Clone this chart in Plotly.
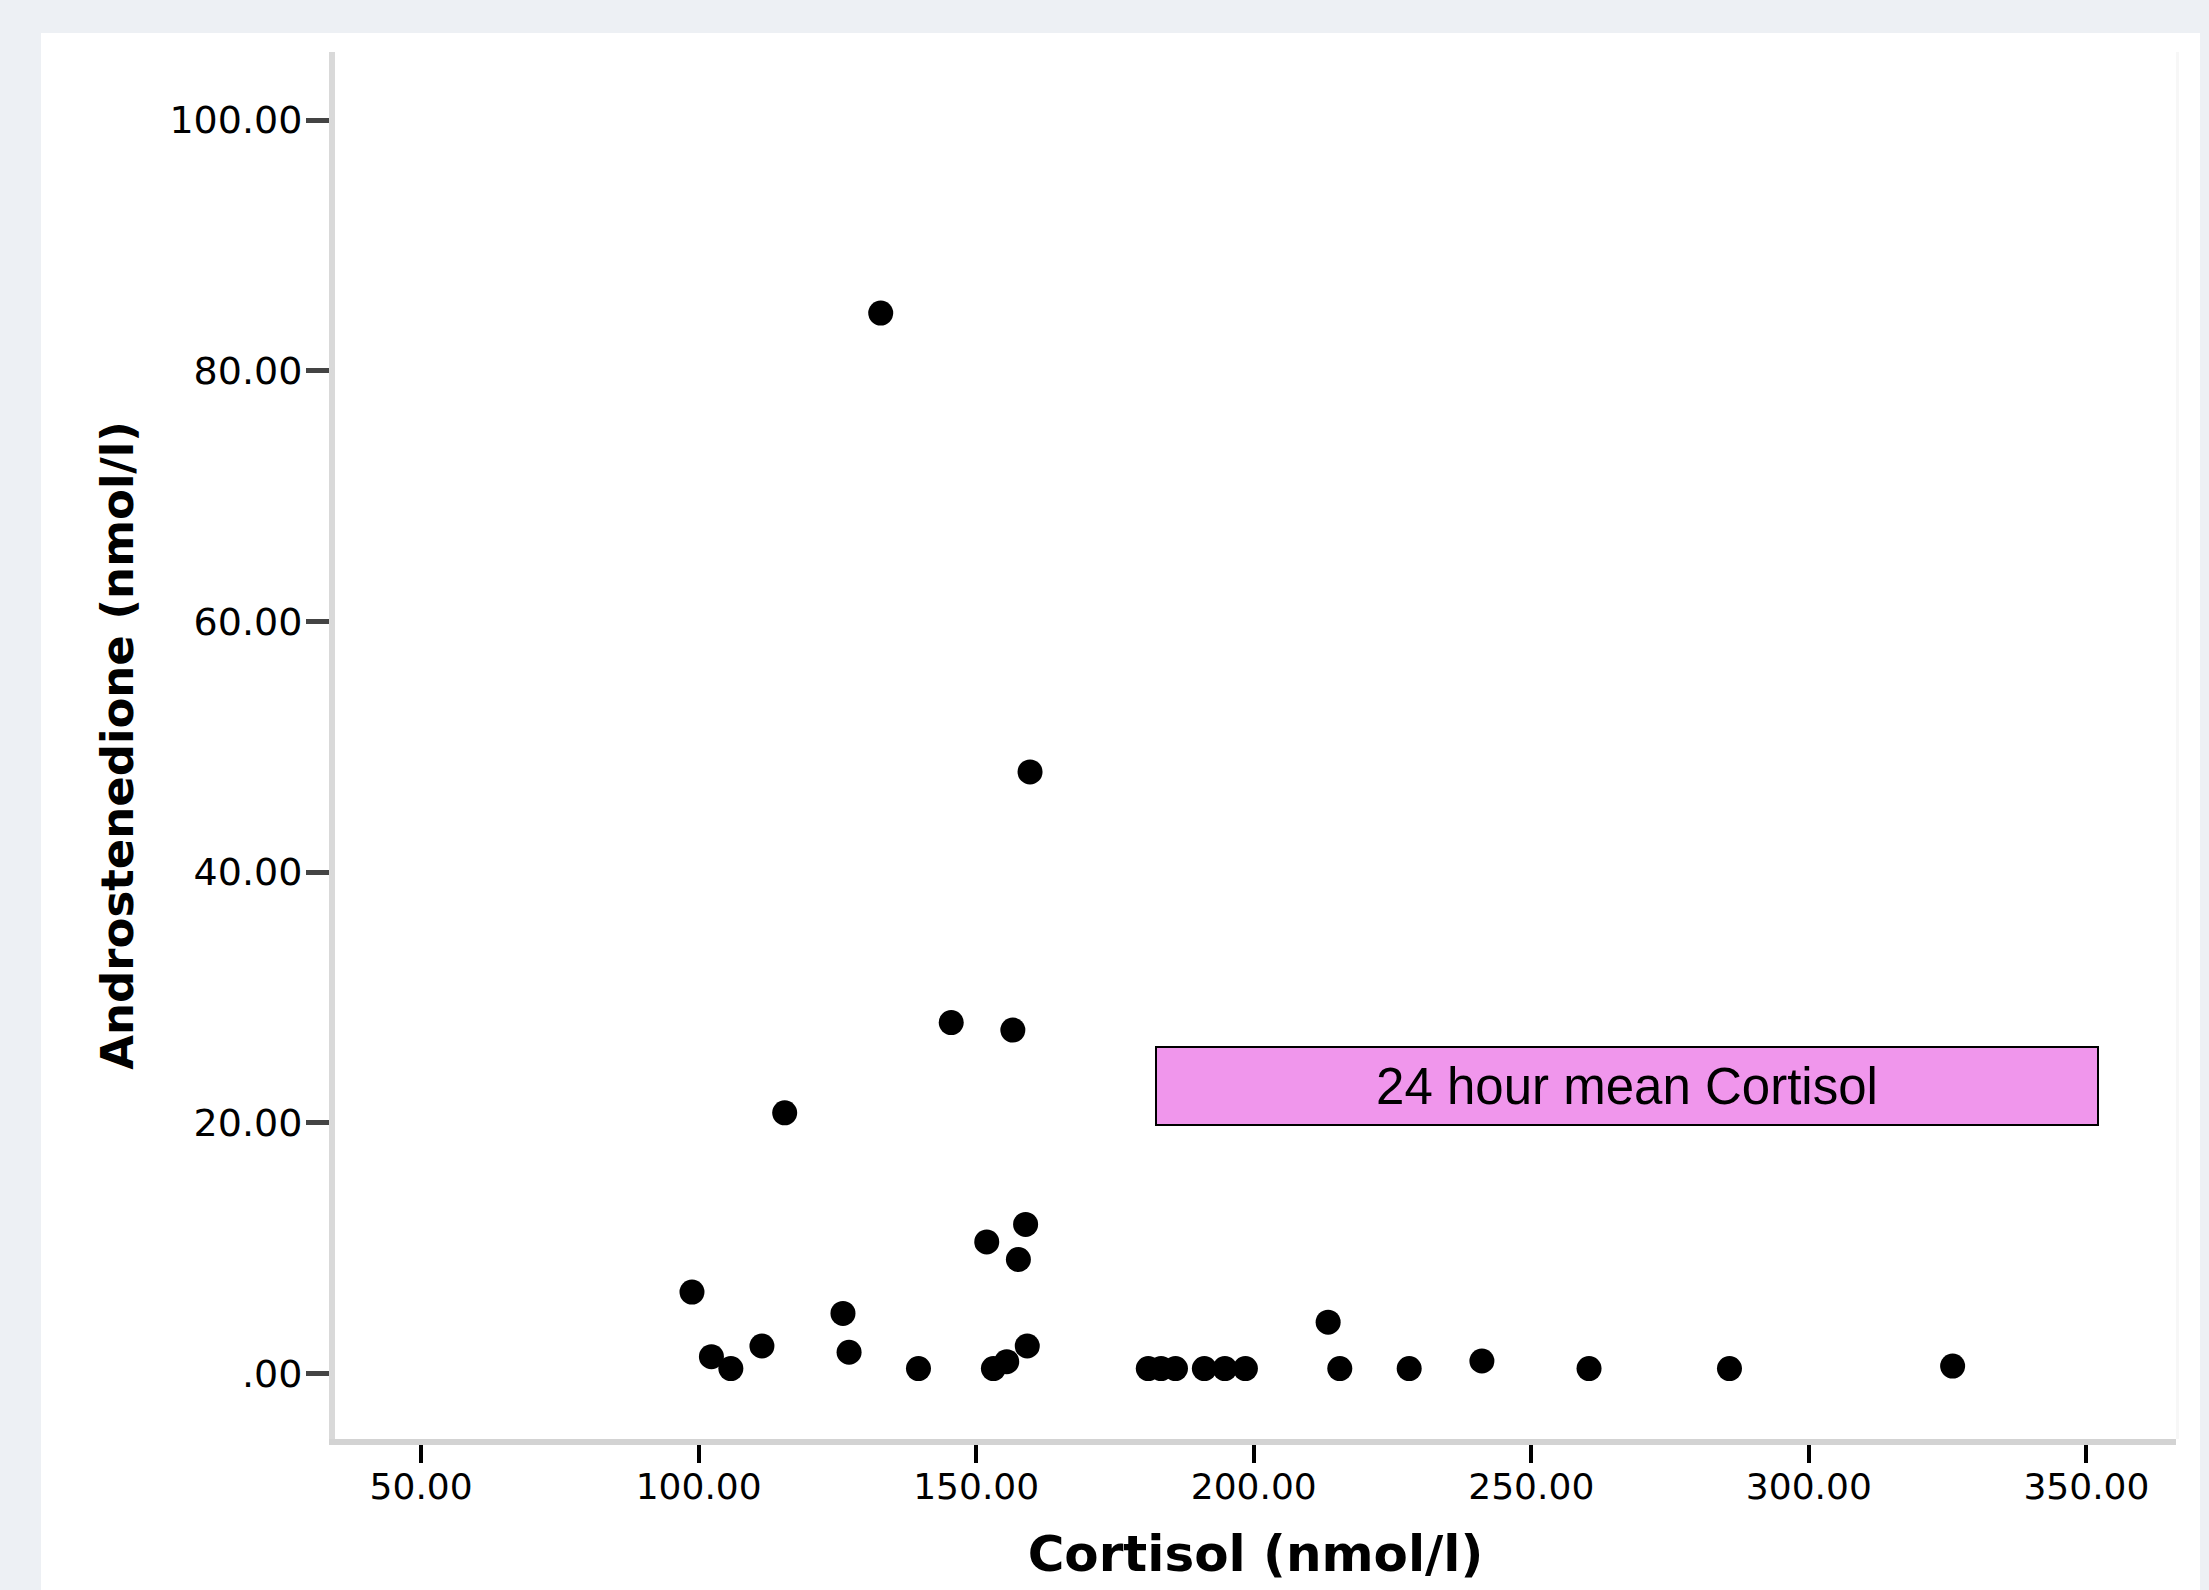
import plotly.graph_objects as go

# ---- data ----
cortisol = [132.8, 159.7, 145.5, 156.6, 115.5, 158.9, 151.9, 157.6, 98.8, 126.0,
            213.4, 111.4, 159.2, 102.3, 105.8, 127.1, 139.6, 153.1, 155.5, 181.0,
            183.3, 185.9, 191.1, 194.8, 198.5, 215.5, 228.0, 241.1, 260.4, 285.7,
            325.9]
androstenedione = [84.6, 48.0, 28.0, 27.4, 20.8, 11.9, 10.5, 9.1, 6.5, 4.8,
                   4.1, 2.2, 2.2, 1.35, 0.4, 1.7, 0.4, 0.4, 0.95, 0.4,
                   0.4, 0.4, 0.4, 0.4, 0.4, 0.4, 0.4, 1.0, 0.4, 0.4,
                   0.6]

x_tickvals = [50, 100, 150, 200, 250, 300, 350]
x_ticktext = ["50.00", "100.00", "150.00", "200.00", "250.00", "300.00", "350.00"]
y_tickvals = [0, 20, 40, 60, 80, 100]
y_ticktext = [".00", "20.00", "40.00", "60.00", "80.00", "100.00"]

x_title = "Cortisol (nmol/l)"
y_title = "Androstenedione (nmol/l)"
box_label = "24 hour mean Cortisol"

W, H = 2209, 1590
L, R, T, B = 335, 33, 52, 151
PW, PH = W - L - R, H - T - B


def px_x(px):
    return (px - L) / PW


def px_y(py):
    return 1 - (py - T) / PH


fig = go.Figure()
fig.add_trace(go.Scatter(
    x=cortisol, y=androstenedione, mode="markers",
    marker=dict(color="black", size=25, line=dict(width=0)),
    showlegend=False, hoverinfo="x+y",
))

FAM = "DejaVu Sans, Verdana, sans-serif"

fig.update_layout(
    width=W, height=H,
    margin=dict(l=L, r=R, t=T, b=B, autoexpand=False),
    paper_bgcolor="#edf0f4",
    plot_bgcolor="#efefef",
    xaxis=dict(
        range=[34.49, 366.14], tickvals=x_tickvals, ticktext=x_ticktext,
        showgrid=False, zeroline=False,
        showline=True, linecolor="#d3d3d3", linewidth=6,
        ticks="outside", ticklen=18, tickwidth=4, tickcolor="black",
        tickfont=dict(family=FAM, size=36, color="black"),
        ticklabelstandoff=-7,
        title=dict(text="<b>" + x_title + "</b>",
                   font=dict(family=FAM, size=50, color="black"), standoff=32),
        automargin=False,
    ),
    yaxis=dict(
        range=[-5.22, 105.43], tickvals=y_tickvals, ticktext=y_ticktext,
        showgrid=False, zeroline=False,
        showline=True, linecolor="#d9d9d9", linewidth=6,
        ticks="outside", ticklen=23, tickwidth=5, tickcolor="#444444",
        tickfont=dict(family=FAM, size=38, color="black"),
        ticklabelstandoff=-4,
        title=dict(text="<b>" + y_title + "</b>",
                   font=dict(family=FAM, size=45, color="black"), standoff=24),
        automargin=False,
    ),
    shapes=[
        # white panel behind the chart
        dict(type="rect", xref="paper", yref="paper", layer="below",
             x0=px_x(41), x1=px_x(2200), y0=px_y(H + 5), y1=px_y(33),
             fillcolor="white", line=dict(width=0)),
        # light strip at the right edge of the plot area
        dict(type="rect", xref="paper", yref="paper", layer="below",
             x0=1, x1=px_x(2179), y0=0, y1=1,
             fillcolor="#f7f7f7", line=dict(width=0)),
    ],
    annotations=[
        dict(x=267.2, y=22.94, xref="x", yref="y", text=box_label,
             showarrow=False,
             font=dict(family="Liberation Sans, Arial, sans-serif", size=51, color="black"),
             bgcolor="#f096ec", bordercolor="black", borderwidth=2, borderpad=0,
             width=940, height=76, align="center", valign="middle"),
    ],
)

fig.write_html(
    "out.html",
    config={"displayModeBar": False},
    post_script="document.body.style.margin='0';document.body.style.background='#edf0f4';",
)
